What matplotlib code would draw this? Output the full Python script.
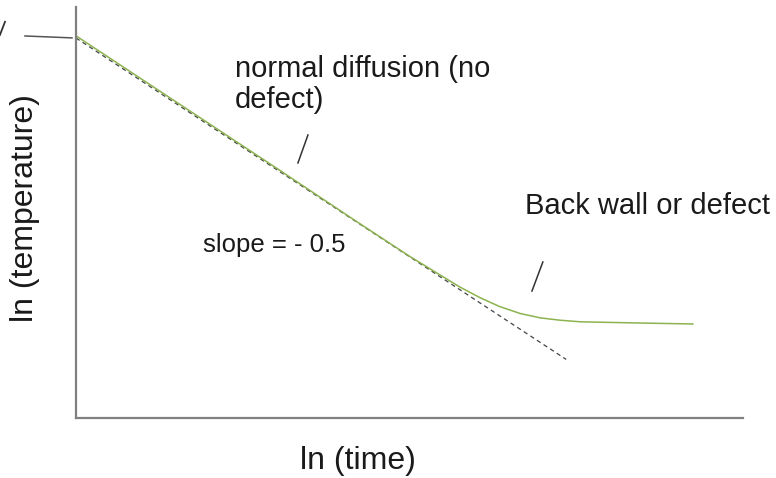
import matplotlib
matplotlib.use("Agg")
import matplotlib.pyplot as plt
import numpy as np

# ln(time) / ln(temperature) readings for the measured cooling curve
ln_time = [0.0, 1.5, 3.0, 4.2, 4.56, 5.0, 5.45, 5.75, 6.06, 6.35, 6.66,
           6.96, 7.26, 7.56, 8.46, 9.25]
ln_temp = [4.37, 3.615, 2.86, 2.25, 2.07, 1.85, 1.64, 1.50, 1.375, 1.275,
           1.195, 1.145, 1.118, 1.100, 1.086, 1.075]

# ideal semi-infinite body: straight line with slope -0.5
ref_intercept = 4.345
ref_slope = -0.5
ref_span = (0.0, 7.35)

plt.rcParams["font.family"] = ["Liberation Sans", "DejaVu Sans"]

fig = plt.figure(figsize=(7.76, 4.78), dpi=100)
ax = fig.add_axes([0.0979, 0.1255, 0.8595, 0.86])
ax.set_xlim(0, 10)
ax.set_ylim(0, 4.7)

x_ref = np.array(ref_span)
ax.plot(x_ref, ref_intercept + ref_slope * x_ref, color="#444444", lw=0.9,
        linestyle=(0, (3.5, 2.8)))
ax.plot(ln_time, ln_temp, color="#8cb34f", lw=1.1)

for side in ("top", "right"):
    ax.spines[side].set_visible(False)
for side in ("left", "bottom"):
    ax.spines[side].set_color("#808080")
    ax.spines[side].set_linewidth(1.6)
ax.set_xticks([])
ax.set_yticks([])

# leader strokes next to the callouts
ax.plot([-0.765, -0.06], [4.368, 4.346], color="#555555", lw=1.1, clip_on=False)
ax.plot([-1.14, -1.064], [4.38, 4.53], color="#333333", lw=1.3, clip_on=False)
ax.plot([3.328, 3.478], [2.916, 3.236], color="#333333", lw=1.1, clip_on=False)
ax.plot([6.837, 7.0], [1.452, 1.784], color="#333333", lw=1.1, clip_on=False)


def px(x, y):
    return x / 776, 1 - y / 478


txt = dict(color="#1a1a1a")
fig.text(*px(235, 77), "normal diffusion (no", fontsize=21, va="baseline", **txt)
fig.text(*px(235, 108), "defect)", fontsize=21, va="baseline", **txt)
fig.text(*px(525, 214), "Back wall or defect", fontsize=21, va="baseline", **txt)
fig.text(*px(203, 252), "slope = - 0.5", fontsize=18.5, va="baseline", **txt)
fig.text(*px(358, 469), "ln (time)", fontsize=23, va="baseline", ha="center", **txt)
fig.text(*px(33, 208), "ln (temperature)", fontsize=23, rotation=90,
         va="baseline", ha="center", rotation_mode="anchor", **txt)

fig.savefig("out.png", dpi=100)
plt.close(fig)
